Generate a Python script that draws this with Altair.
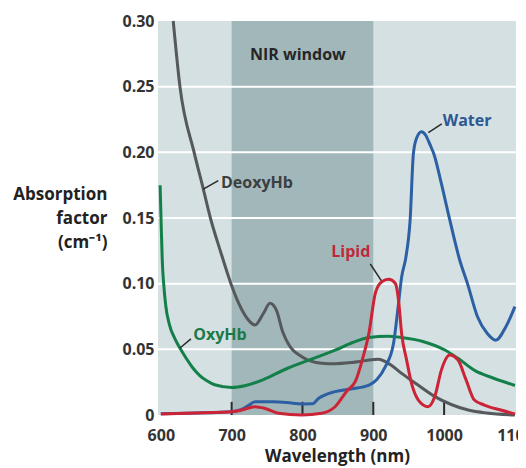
import altair as alt
import pandas as pd

# ---- data: wavelength (nm) / absorption factor (cm^-1) ----
deoxy_wl = [617.5, 627, 647, 660, 670, 684, 699, 710, 722, 733, 745, 754, 763, 772, 781, 799, 812,
            827, 846, 870, 890, 907, 925, 940, 960, 987, 1010, 1034, 1060, 1100]
deoxy_val = [0.300, 0.250, 0.200, 0.172, 0.150, 0.125, 0.100, 0.085, 0.0735, 0.0685, 0.0775,
             0.085, 0.080, 0.0634, 0.0533, 0.0444, 0.041, 0.0394, 0.039, 0.040, 0.0415, 0.0424, 0.038,
             0.0317, 0.024, 0.014, 0.008, 0.0038, 0.0015, 0.0]

oxy_wl = [599, 600.5, 602, 604, 607, 612, 620, 628, 636, 645, 655, 665, 676, 700, 720, 745, 779, 810,
          847, 870, 894, 920, 940, 970, 1001, 1020, 1043, 1070, 1100]
oxy_val = [0.175, 0.145, 0.118, 0.100, 0.083, 0.069, 0.058, 0.050, 0.043, 0.036, 0.030, 0.026, 0.023,
           0.021, 0.0225, 0.027, 0.0356, 0.042, 0.0495, 0.055, 0.059, 0.060, 0.059, 0.056, 0.0495, 0.043,
           0.034, 0.028, 0.0225]

water_wl = [600, 650, 700, 713, 723, 733, 758, 778, 799, 814, 823, 846, 870, 894, 905, 917, 928.6, 935.6,
            940, 946, 952, 956.6, 961, 968, 974, 980, 986, 996, 1008, 1022, 1033, 1047, 1061, 1073, 1087,
            1100]
water_val = [0.001, 0.0015, 0.0025, 0.004, 0.007, 0.010, 0.010, 0.0095, 0.0084, 0.0085, 0.0127, 0.0178,
             0.020, 0.0228, 0.027, 0.0368, 0.0546, 0.085, 0.105, 0.120, 0.1485, 0.199, 0.2107, 0.2157,
             0.213, 0.206, 0.198, 0.1765, 0.1485, 0.118, 0.100, 0.075, 0.062, 0.057, 0.067, 0.0825]

lipid_wl = [600, 662, 700, 714, 733, 747, 766, 799, 827, 846, 863, 875, 884.5, 893.7, 903, 912, 921.6,
            931, 935.6, 940, 947, 954, 963.6, 977.5, 986.8, 996, 1007.8, 1019.4, 1031, 1042.7, 1056.7,
            1080, 1100]
lipid_val = [0.0008, 0.0018, 0.0025, 0.0038, 0.0063, 0.005, 0.0013, 0.0, 0.0013, 0.0063, 0.0185, 0.026,
             0.042, 0.062, 0.093, 0.1015, 0.1033, 0.1003, 0.0876, 0.062, 0.042, 0.024, 0.0114, 0.0063,
             0.014, 0.034, 0.0457, 0.042, 0.0267, 0.0114, 0.0076, 0.0038, 0.0008]

nir_start = [700]
nir_end = [900]
grid_vals = [0.05, 0.10, 0.15, 0.20, 0.25]
tick_wl = [700, 800, 900, 1000]
x_ticks = [600, 700, 800, 900, 1000, 1100]
y_ticks = [0, 0.05, 0.10, 0.15, 0.20, 0.25, 0.30]

label_text = ["NIR window", "DeoxyHb", "Water", "Lipid", "OxyHb"]
label_wl = [725.8, 684.9, 998, 840.7, 645.8]
label_val = [0.274, 0.1767, 0.2241, 0.1239, 0.0609]
label_color = ["#262626", "#3b3f41", "#2d5793", "#c0283c", "#1a7a48"]

leader_wl = [660, 977.7, 895.8, 627]
leader_val = [0.172, 0.215, 0.115, 0.051]
leader_wl2 = [681.1, 996.6, 911.3, 642.5]
leader_val2 = [0.1785, 0.2216, 0.1023, 0.058]

FONT = "Open Sans"
LIGHT = "#d5e0e2"
DARK = "#a2b7ba"

xscale = alt.Scale(domain=[596, 1101.5], nice=False, zero=False)
yscale = alt.Scale(domain=[0, 0.30], nice=False, zero=True)

xaxis = alt.Axis(values=x_ticks, format="d", title="Wavelength (nm)", grid=False, ticks=False,
                 domain=False, labelFont=FONT, labelFontSize=16, labelFontWeight="bold",
                 labelColor="#333333", labelPadding=12, titleFont=FONT, titleFontSize=17,
                 titleFontWeight="bold", titleColor="#222222", titleBaseline="top", titleY=33)
yaxis = alt.Axis(values=y_ticks, title=["Absorption", "factor", "(cm⁻¹)"], grid=False, ticks=False,
                 domain=False, labelExpr="datum.value == 0 ? '0' : format(datum.value, '.2f')",
                 labelFont=FONT, labelFontSize=16, labelFontWeight="bold", labelColor="#333333",
                 labelPadding=4, titleFont=FONT, titleFontSize=17, titleFontWeight="bold",
                 titleColor="#222222", titleAngle=0, titleAlign="right", titleBaseline="top",
                 titleX=-51, titleY=165, titleLineHeight=24)

nir_df = pd.DataFrame({"start": nir_start, "end": nir_end})
bg = alt.Chart(nir_df).mark_rect(color=DARK).encode(
    x=alt.X("start:Q", scale=xscale, axis=xaxis),
    x2="end:Q",
)

grid_df = pd.DataFrame({"v": grid_vals})
grid = alt.Chart(grid_df).mark_rule(color="white", strokeWidth=2).encode(
    y=alt.Y("v:Q", scale=yscale, axis=yaxis)
)

tick_df = pd.DataFrame({"wl": tick_wl, "lo": [0.0] * len(tick_wl), "hi": [0.01] * len(tick_wl)})
ticks = alt.Chart(tick_df).mark_rule(color="#2b2b2b", strokeWidth=2).encode(
    x=alt.X("wl:Q", scale=xscale), y=alt.Y("lo:Q", scale=yscale), y2="hi:Q"
)


def line(wl, val, color):
    df = pd.DataFrame({"wl": wl, "val": val})
    return alt.Chart(df).mark_line(color=color, strokeWidth=3, interpolate="monotone").encode(
        x=alt.X("wl:Q", scale=xscale), y=alt.Y("val:Q", scale=yscale)
    )


l_deoxy = line(deoxy_wl, deoxy_val, "#55595b")
l_oxy = line(oxy_wl, oxy_val, "#13804a")
l_water = line(water_wl, water_val, "#2c5fa3")
l_lipid = line(lipid_wl, lipid_val, "#cc2336")

lead_df = pd.DataFrame({"a": leader_wl, "b": leader_val, "a2": leader_wl2, "b2": leader_val2})
leaders = alt.Chart(lead_df).mark_rule(color="#2a2a2a", strokeWidth=1.5).encode(
    x=alt.X("a:Q", scale=xscale), y=alt.Y("b:Q", scale=yscale), x2="a2:Q", y2="b2:Q"
)

lab_df = pd.DataFrame({"wl": label_wl, "val": label_val, "t": label_text, "c": label_color})
labels = alt.Chart(lab_df).mark_text(align="left", baseline="middle", font=FONT, fontSize=16,
                                      fontWeight="bold").encode(
    x=alt.X("wl:Q", scale=xscale), y=alt.Y("val:Q", scale=yscale), text="t:N",
    color=alt.Color("c:N", scale=None)
)

chart = alt.layer(bg, grid, ticks, l_deoxy, l_oxy, l_water, l_lipid, leaders, labels).properties(
    width=358, height=394,
    autosize=alt.AutoSizeParams(type="none"),
    padding={"left": 150, "top": 13, "right": 2, "bottom": 55},
    background="white",
).configure_view(fill=LIGHT, stroke=None)

chart.save("out.html", embed_options={"renderer": "svg", "actions": False})
